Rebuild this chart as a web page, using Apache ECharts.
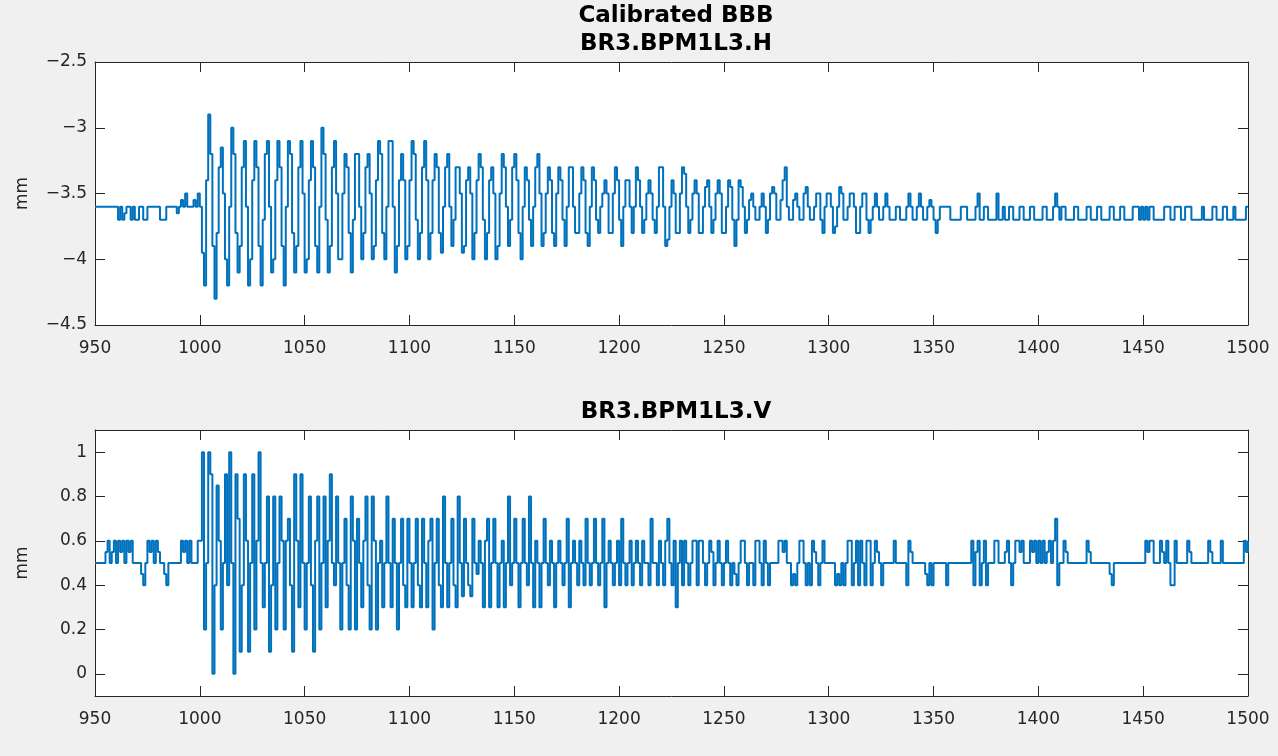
<!DOCTYPE html>
<html>
<head>
<meta charset="utf-8">
<script src="https://cdn.jsdelivr.net/npm/echarts@6.0.0/dist/echarts.min.js"></script>
<style>
html,body{margin:0;padding:0;background:#f0f0f0;}
#chart{width:1278px;height:756px;}
</style>
</head>
<body>
<div id="chart"></div>
<script>
// ---- DATA ----
const startTurn = 950;           // first sample (turn number)
const mainTitle = 'Calibrated BBB';
const titleH = 'BR3.BPM1L3.H';
const titleV = 'BR3.BPM1L3.V';
const yUnit = 'mm';
const vTickValues = [0, 0.2, 0.4, 0.6, 0.8, 1];

// Horizontal BPM reading (mm), one value per turn 950..1500
const hValues = [
-3.6,-3.6,-3.6,-3.6,-3.6,-3.6,-3.6,-3.6,-3.6,-3.6,
-3.6,-3.7,-3.6,-3.7,-3.65,-3.6,-3.6,-3.7,-3.6,-3.7,
-3.7,-3.6,-3.6,-3.7,-3.7,-3.6,-3.6,-3.6,-3.6,-3.6,
-3.6,-3.7,-3.7,-3.7,-3.6,-3.6,-3.6,-3.6,-3.6,-3.65,
-3.6,-3.55,-3.6,-3.5,-3.6,-3.6,-3.6,-3.55,-3.6,-3.5,
-3.6,-3.95,-4.2,-3.4,-2.9,-3.2,-3.9,-4.3,-3.8,-3.3,
-3.15,-3.5,-4.0,-4.2,-3.6,-3.0,-3.2,-3.8,-4.1,-3.9,
-3.3,-3.1,-3.6,-4.2,-4.0,-3.4,-3.1,-3.3,-3.9,-4.2,
-3.7,-3.2,-3.1,-3.6,-4.1,-4.0,-3.4,-3.1,-3.3,-3.9,
-4.2,-3.6,-3.1,-3.2,-3.8,-4.1,-3.9,-3.3,-3.1,-3.5,
-4.1,-4.0,-3.4,-3.1,-3.3,-3.9,-4.1,-3.6,-3.0,-3.2,
-3.7,-4.1,-3.9,-3.3,-3.1,-3.5,-4.0,-4.0,-3.5,-3.2,
-3.3,-3.8,-4.1,-3.7,-3.2,-3.2,-3.6,-4.0,-3.8,-3.3,
-3.2,-3.5,-4.0,-3.9,-3.4,-3.1,-3.2,-3.8,-4.0,-3.6,
-3.1,-3.1,-3.6,-4.1,-3.9,-3.4,-3.2,-3.4,-4.0,-3.9,
-3.4,-3.1,-3.2,-3.7,-4.0,-3.8,-3.3,-3.1,-3.4,-4.0,
-3.8,-3.4,-3.2,-3.3,-3.8,-3.95,-3.6,-3.3,-3.2,-3.6,
-3.9,-3.7,-3.3,-3.3,-3.5,-3.95,-3.9,-3.4,-3.3,-3.5,
-4.0,-3.8,-3.4,-3.2,-3.3,-3.7,-4.0,-3.8,-3.4,-3.3,
-3.5,-4.0,-3.9,-3.5,-3.2,-3.3,-3.6,-3.9,-3.7,-3.3,
-3.2,-3.4,-3.8,-4.0,-3.6,-3.3,-3.4,-3.7,-3.9,-3.6,
-3.3,-3.2,-3.5,-3.9,-3.8,-3.5,-3.3,-3.4,-3.8,-3.9,
-3.5,-3.3,-3.4,-3.7,-3.9,-3.6,-3.3,-3.3,-3.6,-3.8,
-3.8,-3.5,-3.3,-3.4,-3.8,-3.9,-3.6,-3.3,-3.4,-3.7,
-3.8,-3.6,-3.5,-3.4,-3.5,-3.8,-3.8,-3.5,-3.3,-3.4,
-3.7,-3.9,-3.6,-3.4,-3.4,-3.6,-3.8,-3.6,-3.3,-3.4,
-3.6,-3.8,-3.7,-3.5,-3.4,-3.5,-3.7,-3.8,-3.6,-3.3,
-3.3,-3.6,-3.9,-3.85,-3.6,-3.4,-3.5,-3.8,-3.8,-3.5,
-3.3,-3.35,-3.6,-3.8,-3.7,-3.5,-3.4,-3.5,-3.8,-3.8,
-3.6,-3.45,-3.4,-3.6,-3.8,-3.7,-3.5,-3.4,-3.5,-3.8,
-3.8,-3.6,-3.4,-3.45,-3.7,-3.9,-3.7,-3.4,-3.45,-3.6,
-3.8,-3.7,-3.55,-3.5,-3.6,-3.7,-3.7,-3.6,-3.5,-3.6,
-3.8,-3.7,-3.5,-3.45,-3.5,-3.7,-3.7,-3.55,-3.4,-3.3,
-3.6,-3.7,-3.7,-3.55,-3.5,-3.6,-3.7,-3.7,-3.5,-3.45,
-3.6,-3.7,-3.7,-3.6,-3.5,-3.5,-3.7,-3.8,-3.6,-3.5,
-3.5,-3.6,-3.8,-3.75,-3.6,-3.45,-3.5,-3.7,-3.7,-3.6,
-3.5,-3.5,-3.6,-3.8,-3.8,-3.6,-3.5,-3.5,-3.7,-3.8,
-3.7,-3.6,-3.5,-3.6,-3.7,-3.7,-3.6,-3.5,-3.6,-3.7,
-3.7,-3.7,-3.6,-3.6,-3.7,-3.7,-3.7,-3.6,-3.5,-3.6,
-3.7,-3.7,-3.6,-3.5,-3.6,-3.7,-3.7,-3.6,-3.55,-3.6,
-3.7,-3.8,-3.7,-3.6,-3.6,-3.6,-3.6,-3.6,-3.7,-3.7,
-3.7,-3.7,-3.7,-3.6,-3.6,-3.6,-3.7,-3.7,-3.7,-3.7,
-3.6,-3.5,-3.7,-3.7,-3.6,-3.6,-3.7,-3.7,-3.7,-3.7,
-3.5,-3.7,-3.7,-3.6,-3.7,-3.7,-3.6,-3.6,-3.7,-3.7,
-3.7,-3.6,-3.6,-3.7,-3.7,-3.7,-3.6,-3.6,-3.7,-3.7,
-3.7,-3.7,-3.6,-3.6,-3.7,-3.7,-3.7,-3.6,-3.5,-3.6,
-3.7,-3.6,-3.6,-3.7,-3.7,-3.7,-3.7,-3.6,-3.6,-3.7,
-3.7,-3.7,-3.7,-3.6,-3.6,-3.7,-3.7,-3.7,-3.6,-3.6,
-3.7,-3.7,-3.7,-3.7,-3.6,-3.6,-3.7,-3.7,-3.7,-3.6,
-3.6,-3.7,-3.7,-3.7,-3.7,-3.6,-3.6,-3.6,-3.7,-3.6,
-3.7,-3.6,-3.7,-3.6,-3.6,-3.7,-3.7,-3.7,-3.7,-3.7,
-3.6,-3.6,-3.6,-3.7,-3.7,-3.6,-3.6,-3.6,-3.7,-3.7,
-3.6,-3.6,-3.6,-3.7,-3.7,-3.7,-3.7,-3.7,-3.6,-3.7,
-3.7,-3.7,-3.7,-3.6,-3.6,-3.7,-3.7,-3.7,-3.6,-3.6,
-3.7,-3.7,-3.7,-3.6,-3.7,-3.7,-3.7,-3.7,-3.7,-3.6,
-3.6
];

// Vertical BPM reading (mm), one value per turn 950..1500
const vValues = [
0.5,0.5,0.5,0.5,0.5,0.55,0.6,0.5,0.55,0.6,
0.5,0.6,0.55,0.6,0.5,0.6,0.55,0.6,0.5,0.5,
0.5,0.5,0.45,0.4,0.5,0.6,0.55,0.6,0.5,0.6,
0.55,0.5,0.5,0.45,0.4,0.5,0.5,0.5,0.5,0.5,
0.5,0.6,0.55,0.6,0.5,0.6,0.5,0.5,0.5,0.6,
0.6,1.0,0.2,0.5,1.0,0.9,0.0,0.4,0.85,0.6,
0.2,0.5,0.9,0.4,1.0,0.5,0.0,0.9,0.7,0.1,
0.4,0.9,0.6,0.1,0.5,0.9,0.2,0.6,1.0,0.5,
0.3,0.5,0.8,0.1,0.4,0.8,0.2,0.5,0.8,0.6,
0.2,0.6,0.7,0.4,0.1,0.9,0.6,0.3,0.9,0.5,
0.2,0.5,0.8,0.4,0.1,0.6,0.8,0.2,0.5,0.8,
0.3,0.6,0.9,0.5,0.4,0.8,0.5,0.2,0.5,0.7,
0.4,0.2,0.8,0.6,0.2,0.7,0.5,0.3,0.6,0.8,
0.4,0.2,0.8,0.6,0.2,0.5,0.6,0.3,0.5,0.8,
0.5,0.3,0.7,0.5,0.2,0.5,0.7,0.4,0.3,0.7,
0.5,0.3,0.5,0.7,0.4,0.3,0.7,0.5,0.3,0.6,
0.7,0.2,0.5,0.7,0.4,0.3,0.8,0.5,0.3,0.5,
0.7,0.4,0.3,0.8,0.5,0.35,0.7,0.5,0.4,0.35,
0.7,0.5,0.45,0.6,0.5,0.3,0.6,0.7,0.3,0.5,
0.7,0.5,0.3,0.5,0.6,0.3,0.5,0.8,0.4,0.5,
0.7,0.5,0.3,0.5,0.7,0.5,0.4,0.8,0.5,0.3,
0.6,0.5,0.3,0.5,0.7,0.5,0.4,0.6,0.5,0.3,
0.5,0.6,0.5,0.4,0.5,0.7,0.3,0.5,0.6,0.5,
0.4,0.6,0.5,0.4,0.7,0.5,0.4,0.5,0.7,0.5,
0.4,0.5,0.7,0.3,0.5,0.6,0.5,0.4,0.5,0.6,
0.4,0.7,0.5,0.4,0.5,0.6,0.4,0.5,0.6,0.5,
0.4,0.6,0.5,0.5,0.4,0.7,0.5,0.5,0.4,0.6,
0.5,0.4,0.6,0.7,0.5,0.4,0.6,0.3,0.5,0.6,
0.4,0.6,0.5,0.4,0.5,0.6,0.6,0.4,0.6,0.6,
0.5,0.4,0.5,0.6,0.55,0.4,0.5,0.6,0.5,0.4,
0.5,0.6,0.5,0.4,0.5,0.45,0.4,0.5,0.6,0.6,
0.5,0.4,0.5,0.5,0.4,0.6,0.6,0.5,0.4,0.6,
0.5,0.4,0.5,0.5,0.5,0.5,0.6,0.6,0.55,0.6,
0.5,0.5,0.4,0.45,0.4,0.5,0.6,0.6,0.5,0.4,
0.5,0.4,0.6,0.55,0.5,0.4,0.5,0.6,0.5,0.5,
0.5,0.5,0.5,0.4,0.45,0.4,0.5,0.4,0.5,0.6,
0.6,0.4,0.5,0.6,0.4,0.6,0.5,0.4,0.6,0.6,
0.4,0.5,0.6,0.55,0.5,0.4,0.5,0.5,0.5,0.5,
0.5,0.6,0.5,0.5,0.5,0.5,0.5,0.4,0.6,0.55,
0.5,0.5,0.5,0.5,0.5,0.5,0.45,0.4,0.5,0.4,
0.5,0.5,0.5,0.5,0.5,0.5,0.4,0.5,0.5,0.5,
0.5,0.5,0.5,0.5,0.5,0.5,0.5,0.5,0.6,0.4,
0.55,0.6,0.4,0.5,0.6,0.4,0.5,0.5,0.5,0.6,
0.6,0.5,0.5,0.5,0.55,0.6,0.5,0.4,0.5,0.6,
0.6,0.55,0.6,0.5,0.5,0.5,0.6,0.55,0.6,0.5,
0.6,0.5,0.6,0.5,0.55,0.6,0.5,0.6,0.7,0.4,
0.5,0.5,0.6,0.55,0.5,0.5,0.5,0.5,0.5,0.5,
0.5,0.5,0.5,0.6,0.55,0.5,0.5,0.5,0.5,0.5,
0.5,0.5,0.5,0.5,0.45,0.4,0.5,0.5,0.5,0.5,
0.5,0.5,0.5,0.5,0.5,0.5,0.5,0.5,0.5,0.5,
0.5,0.6,0.55,0.6,0.6,0.5,0.5,0.5,0.6,0.55,
0.5,0.6,0.5,0.4,0.4,0.6,0.5,0.5,0.5,0.5,
0.5,0.6,0.55,0.5,0.5,0.5,0.5,0.5,0.5,0.5,
0.5,0.6,0.55,0.5,0.5,0.5,0.5,0.6,0.5,0.5,
0.5,0.5,0.5,0.5,0.5,0.5,0.5,0.5,0.6,0.55,
0.6
];

// ---- CHART ----
const hData = hValues.map((v, i) => [startTurn + i, v]);
const vData = vValues.map((v, i) => [startTurn + i, v]);

const FONT = 'DejaVu Sans';
const AX = '#262626';
const LINE = '#0072BD';
const TICK_FS = 17;
const TITLE_FS = 23;

// plain numbers, true minus sign, no thousands separators
const fmt = v => {
  const s = String(+v.toFixed(4));
  return s.replace('-', '\u2212');
};

function xAx(gridIndex, top) {
  return {
    type: 'value', gridIndex, position: top ? 'top' : 'bottom',
    min: 950, max: 1500, interval: 50,
    axisLine: { show: true, onZero: false, lineStyle: { color: AX, width: 1 } },
    axisTick: { show: true, inside: true, length: 10, lineStyle: { color: AX } },
    axisLabel: { show: !top, color: AX, fontFamily: FONT, fontSize: TICK_FS, margin: 15, formatter: fmt },
    splitLine: { show: false }
  };
}
function yAxTop(right) {
  return {
    type: 'value', gridIndex: 0, position: right ? 'right' : 'left',
    min: -4.5, max: -2.5, interval: 0.5,
    name: right ? '' : yUnit, nameLocation: 'middle', nameGap: 64, nameRotate: 90,
    nameTextStyle: { color: AX, fontFamily: FONT, fontSize: 17 },
    axisLine: { show: true, onZero: false, lineStyle: { color: AX, width: 1 } },
    axisTick: { show: true, inside: true, length: 10, lineStyle: { color: AX } },
    axisLabel: { show: !right, color: AX, fontFamily: FONT, fontSize: TICK_FS, margin: 8, formatter: fmt },
    splitLine: { show: false }
  };
}
function yAxBot(right) {
  return {
    type: 'value', gridIndex: 1, position: right ? 'right' : 'left',
    min: -0.1, max: 1.1,
    name: right ? '' : yUnit, nameLocation: 'middle', nameGap: 64, nameRotate: 90,
    nameTextStyle: { color: AX, fontFamily: FONT, fontSize: 17 },
    axisLine: { show: true, onZero: false, lineStyle: { color: AX, width: 1 } },
    axisTick: { show: true, inside: true, length: 10, customValues: vTickValues, lineStyle: { color: AX } },
    axisLabel: { show: !right, color: AX, fontFamily: FONT, fontSize: TICK_FS, margin: 8,
                 customValues: vTickValues, formatter: fmt },
    splitLine: { show: false }
  };
}

const chart = echarts.init(document.getElementById('chart'), null, { renderer: 'canvas' });
chart.setOption({
  animation: false,
  backgroundColor: '#f0f0f0',
  title: [
    { text: mainTitle, left: 671, top: 0, textAlign: 'center',
      textStyle: { fontFamily: FONT, fontSize: TITLE_FS, fontWeight: 'bold', color: '#000' } },
    { text: titleH, left: 671, top: 28, textAlign: 'center',
      textStyle: { fontFamily: FONT, fontSize: TITLE_FS, fontWeight: 'bold', color: '#000' } },
    { text: titleV, left: 671, top: 396, textAlign: 'center',
      textStyle: { fontFamily: FONT, fontSize: TITLE_FS, fontWeight: 'bold', color: '#000' } }
  ],
  grid: [
    { left: 95, top: 62, width: 1153, height: 263, show: true, backgroundColor: '#fff', borderWidth: 0 },
    { left: 95, top: 430, width: 1153, height: 266, show: true, backgroundColor: '#fff', borderWidth: 0 }
  ],
  xAxis: [xAx(0, false), xAx(0, true), xAx(1, false), xAx(1, true)],
  yAxis: [yAxTop(false), yAxTop(true), yAxBot(false), yAxBot(true)],
  series: [
    { type: 'line', xAxisIndex: 0, yAxisIndex: 0, data: hData, step: 'end',
      showSymbol: false, symbol: 'none', lineStyle: { color: LINE, width: 2 } },
    { type: 'line', xAxisIndex: 2, yAxisIndex: 2, data: vData, step: 'end',
      showSymbol: false, symbol: 'none', lineStyle: { color: LINE, width: 2 } }
  ]
});
</script>
</body>
</html>
